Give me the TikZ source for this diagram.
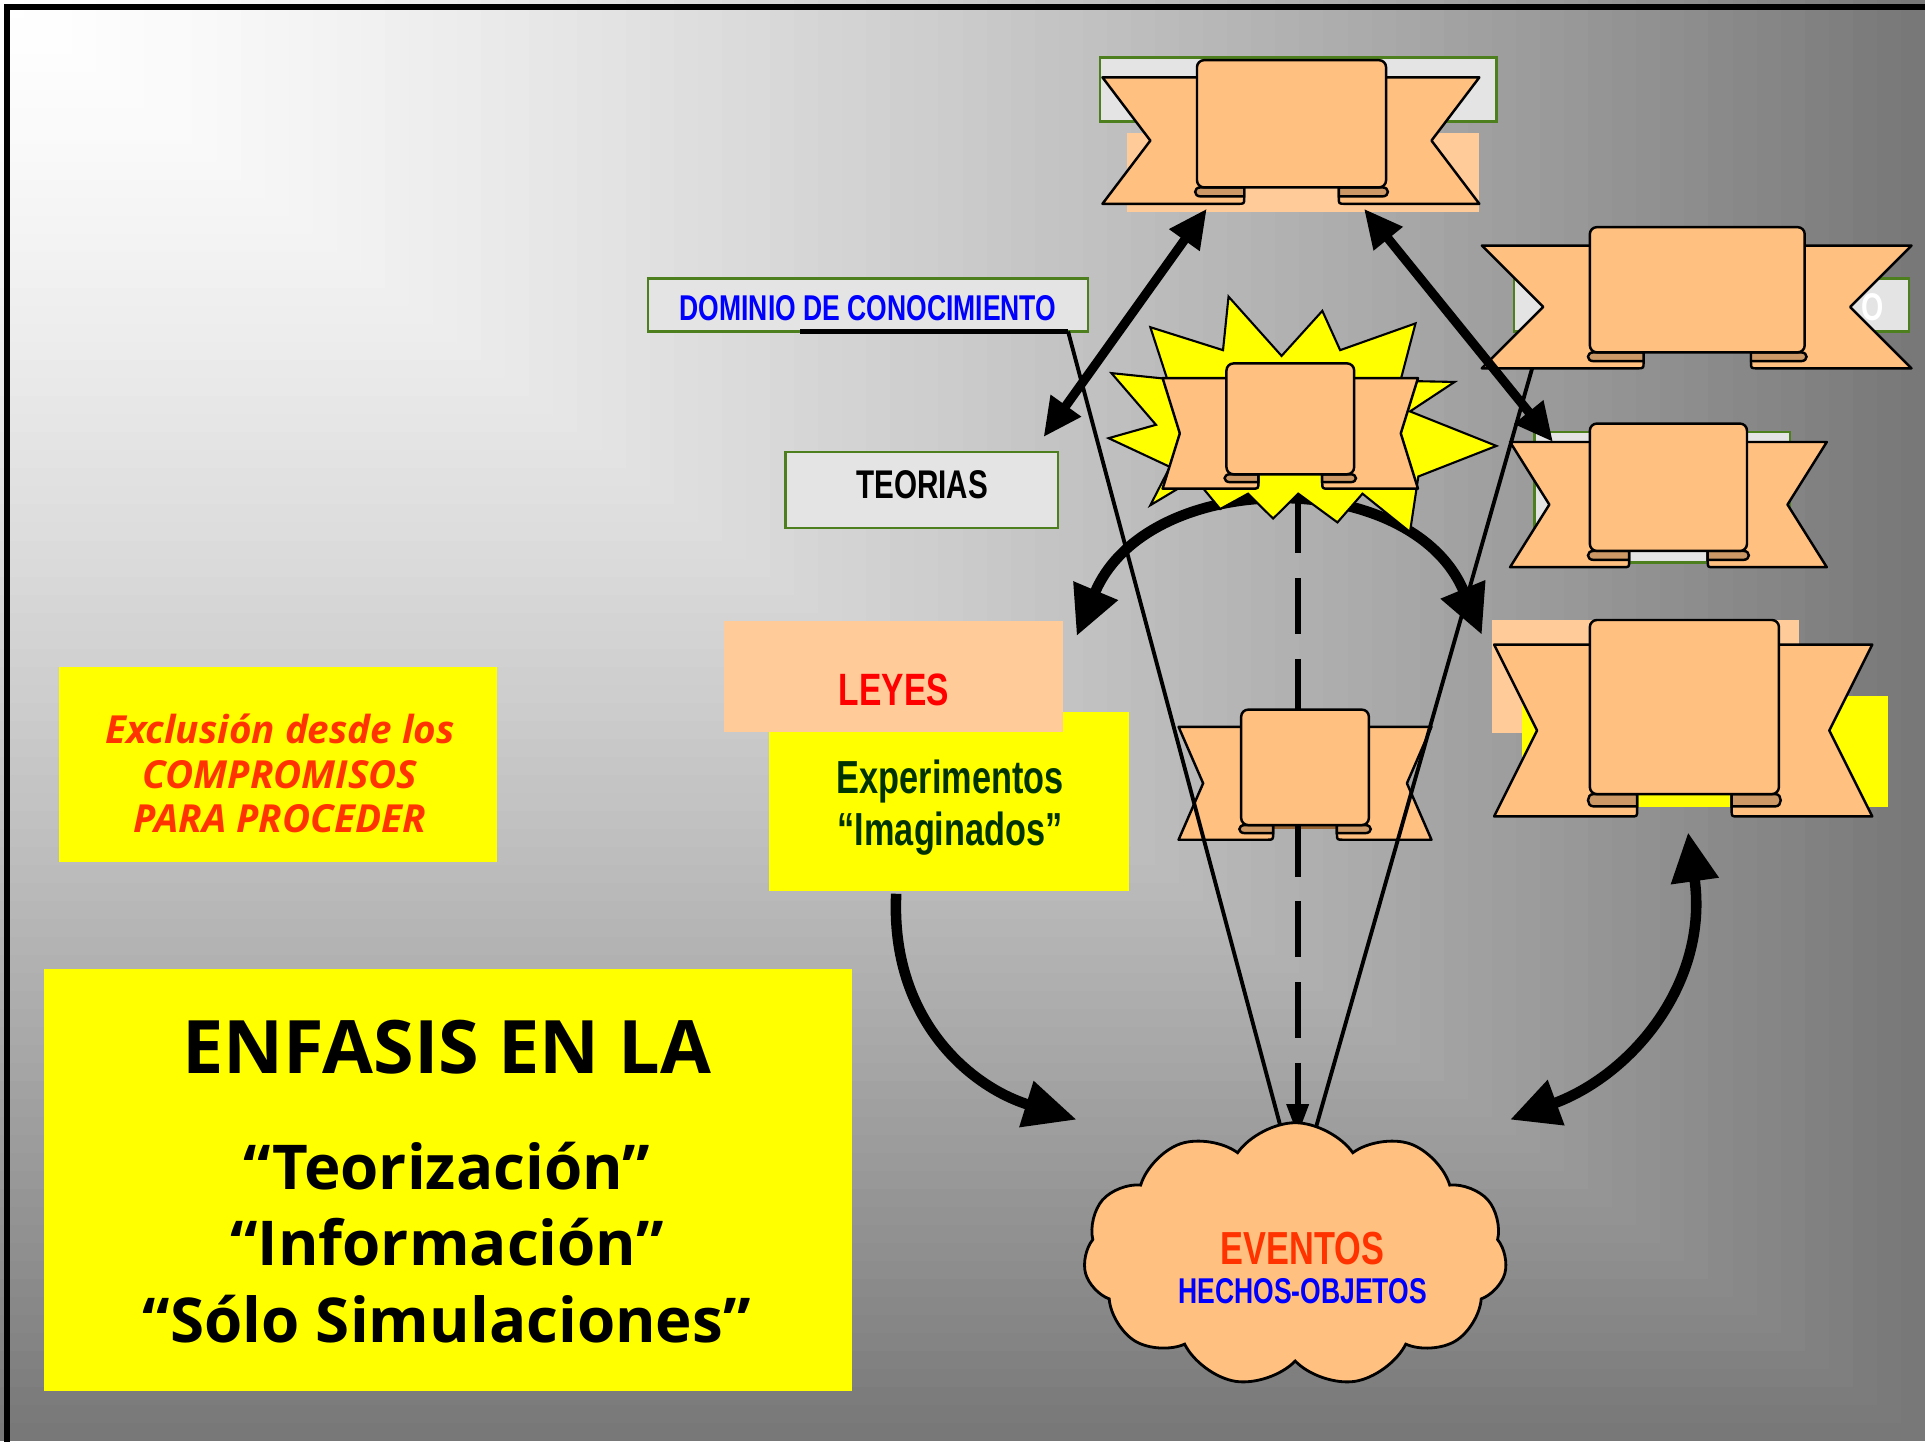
\documentclass[tikz,border=0pt]{standalone}
\usepackage{fontspec}
\usetikzlibrary{arrows.meta,shapes.symbols}
\setmainfont{Liberation Sans}
\newfontfamily\narrowfont[FakeStretch=0.74]{Liberation Sans}
\newfontfamily\comicfont{Open Sans}

\definecolor{peach}{HTML}{FFC080}
\definecolor{peachlight}{HTML}{FFCC99}
\definecolor{curlbrown}{HTML}{CC9966}
\definecolor{boxgreen}{HTML}{4D7F1E}
\definecolor{boxgray}{HTML}{E4E4E4}
\definecolor{leafgreen}{HTML}{003300}
\definecolor{evento}{HTML}{FF3300}
\definecolor{pureyellow}{RGB}{255,255,0}

\newcommand\pxu{0.012277cm}

\tikzset{
  ribbonpart/.style={fill=peach, draw=black, line width=0.7pt, line join=round},
  curlpart/.style={fill=curlbrown, draw=black, line width=0.7pt},
  graybox/.style={draw=boxgreen, fill=boxgray, line width=0.7pt, inner sep=0pt},
  peachbox/.style={fill=peachlight, inner sep=0pt},
  yellowbox/.style={fill=pureyellow, inner sep=0pt},
  starburst/.style={fill=pureyellow, draw=black, line width=0.6pt, line join=miter},
  narrowtext/.style={font=\narrowfont\bfseries\fontsize{#1}{#1}\selectfont},
  thickarrow/.style={line width=2.6pt, {Triangle[length=11pt,width=10pt]}-{Triangle[length=11pt,width=10pt]}},
  curvedarrow/.style={line width=3pt, -{Triangle[length=15pt,width=13pt]}},
  curvedboth/.style={line width=3pt, {Triangle[length=14pt,width=13pt]}-{Triangle[length=14pt,width=13pt]}},
  coneline/.style={line width=1.1pt},
  dashline/.style={line width=1.8pt, dash pattern=on 16pt off 7pt, -{Triangle[length=9pt,width=6pt]}},
}

% ribbon: #1 left end, #2 right end, #3 band top, #4 band bottom,
% #5 panel left, #6 panel right, #7 panel top, #8 notch depth
\newcommand\ribbon[8]{%
  \pgfmathsetmacro\rcw{0.25*(#6-#5)}%
  \pgfmathsetmacro\rch{0.13*(#4-#3)}%
  \pgfmathsetmacro\rpb{#4-\rch}%
  \pgfmathsetmacro\rcy{\rpb+0.55*\rch}%
  \pgfmathsetmacro\rmid{(#3+#4)/2}%
  \filldraw[ribbonpart] (#1,#3) -- (#5+\rcw,#3) -- (#5+\rcw,#4-5)
    .. controls (#5+\rcw,#4) .. (#5+\rcw-5,#4) -- (#1,#4) -- (#1+#8,\rmid) -- cycle;
  \filldraw[ribbonpart] (#2,#3) -- (#6-\rcw,#3) -- (#6-\rcw,#4-5)
    .. controls (#6-\rcw,#4) .. (#6-\rcw+5,#4) -- (#2,#4) -- (#2-#8,\rmid) -- cycle;
  \filldraw[curlpart] (#5+\rcw,\rpb) -- (#5+3,\rpb)
    .. controls (#5-3,\rpb) and (#5-3,\rcy) .. (#5+3,\rcy) -- (#5+\rcw,\rcy) -- cycle;
  \filldraw[curlpart] (#6-\rcw,\rpb) -- (#6-3,\rpb)
    .. controls (#6+3,\rpb) and (#6+3,\rcy) .. (#6-3,\rcy) -- (#6-\rcw,\rcy) -- cycle;
  \filldraw[ribbonpart, rounded corners=2pt] (#5,\rpb) -- (#5,#7) -- (#6,#7) -- (#6,\rpb) -- cycle;
}

\begin{document}
\begin{tikzpicture}[x=\pxu, y=-\pxu]
  \useasboundingbox (0,0) rectangle (1568,1174);

  % background
  \foreach \s in {80,79,...,1}{
    \pgfmathsetmacro\shade{53*(\s/80)^1.4}
    \pgfmathsetmacro\bw{\s/80*1568}
    \pgfmathsetmacro\bh{\s/80*1174}
    \fill[black!\shade] (0,0) rectangle (\bw,\bh);
  }
  \begin{scope}
    \clip (0,0) rectangle (1568,1174);
    \draw[line width=1.7pt] (6,6) rectangle (1620,1220);
  \end{scope}

  % boxes behind the ribbons
  \node[graybox, minimum width=323*\pxu, minimum height=52*\pxu] (hidtop) at (1057.5,73) {};
  \node[peachbox, minimum width=287*\pxu, minimum height=65*\pxu] (peachtop) at (1061.5,140.5) {};
  \node[graybox, minimum width=322*\pxu, minimum height=43*\pxu] (hidright) at (1394,248.5) {};
  \node[text=white, narrowtext=11] (hidO) at (1525,250) {O};
  \node[graybox, minimum width=208*\pxu, minimum height=106*\pxu] (hidmid) at (1354,405) {};
  \node[peachbox, minimum width=250*\pxu, minimum height=92*\pxu] (peachright) at (1340,551) {};
  \node[yellowbox, minimum width=298*\pxu, minimum height=90*\pxu] (yellowright) at (1389,612) {};
  \node[fill=black!20!brown, inner sep=0pt, minimum width=52*\pxu, minimum height=5*\pxu] (brownbar) at (1064,673) {};

  % arc under the star
  \coordinate (arcl) at (877,518);
  \coordinate (arcr) at (1207,517);
  \draw[curvedboth] (arcl) .. controls (935,380) and (1150,380) .. (arcr);

  % dashed arrow down to the cloud
  \coordinate (dashtop) at (1057,405);
  \coordinate (dashend) at (1057,925);
  \draw[dashline] (dashtop) -- (dashend);

  % starburst
  \filldraw[starburst] (1000.7,241.6) -- (1043.9,289.9) -- (1077.1,253.2) -- (1091.6,285.2)
    -- (1153,263.4) -- (1140.7,310.2) -- (1184.8,311.1) -- (1148.5,335.1) -- (1218.9,363.2)
    -- (1155.3,388.1) -- (1148.5,433.3) -- (1109.8,402.1) -- (1089.4,425.5) -- (1057.5,402.1)
    -- (1037,422.4) -- (1016.6,402.1) -- (993.9,414.6) -- (973.4,389.7) -- (937,411.5)
    -- (953,380.3) -- (903,356.9) -- (941.6,346) -- (905.3,303.9) -- (950.7,308.6)
    -- (937,266.5) -- (996.2,285.2) -- cycle;

  % ribbons
  \ribbon{898}{1205}{63}{166}{975}{1129}{49}{39}
  \ribbon{1207}{1557}{200}{300}{1295}{1470}{185}{50}
  \ribbon{1230}{1488}{360}{462}{1295}{1423}{345}{32}
  \ribbon{1217}{1525}{525}{665}{1295}{1449}{505}{35}
  \ribbon{947}{1155}{308}{398}{999}{1103}{296}{14}
  \ribbon{960}{1166}{592}{684}{1011}{1115}{578}{20}

  % labelled boxes
  \node[graybox, minimum width=358*\pxu, minimum height=43*\pxu] (dominiobox) at (707,248.5) {};
  \node[text=blue, narrowtext=10.2] (dominio) at (707,251) {DOMINIO DE CONOCIMIENTO};
  \node[graybox, minimum width=222*\pxu, minimum height=62*\pxu] (teoriasbox) at (751,399) {};
  \node[narrowtext=11.4] (teorias) at (751,395) {TEORIAS};
  \node[yellowbox, minimum width=294*\pxu, minimum height=146*\pxu] (expbox) at (773,653) {};
  \node[peachbox, minimum width=276*\pxu, minimum height=90*\pxu] (leyesbox) at (728,551) {};
  \node[text=red, narrowtext=12.9] (leyes) at (728,562) {LEYES};
  \node[text=leafgreen, narrowtext=13.2, align=center] (experimentos) at (774,658)
    {Experimentos\\[1.5pt]“Imaginados”};

  \node[yellowbox, minimum width=357*\pxu, minimum height=159*\pxu] (exclbox) at (226.5,622.5) {};
  \node[text=evento, font=\comicfont\bfseries\itshape\fontsize{11}{12.6}\selectfont, align=center]
    (exclusion) at (228,630) {Exclusión desde los\\COMPROMISOS\\PARA PROCEDER};

  \node[yellowbox, minimum width=658*\pxu, minimum height=344*\pxu] (enfbox) at (365,961) {};
  \node[font=\comicfont\bfseries\fontsize{21}{24}\selectfont] (enfasis) at (364,853) {ENFASIS EN LA};
  \node[font=\comicfont\bfseries\fontsize{17.6}{21.8}\selectfont, align=center] (enfasis2) at (364,1012)
    {“Teorización”\\“Información”\\“Sólo Simulaciones”};

  % straight arrows
  \coordinate (a1s) at (983,170);
  \coordinate (a1e) at (850,356);
  \coordinate (a2s) at (1111,170);
  \coordinate (a2e) at (1265,360);
  \draw[thickarrow] (a1s) -- (a1e);
  \draw[thickarrow] (a2s) -- (a2e);

  % curved arrows
  \coordinate (expout) at (730,728);
  \coordinate (cloudin) at (877,912);
  \draw[curvedarrow] (expout) .. controls (725,830) and (790,885) .. (cloudin);
  \coordinate (rightup) at (1375,678);
  \coordinate (rightdown) at (1230,912);
  \draw[curvedboth] (rightup) .. controls (1392,800) and (1330,875) .. (rightdown);

  % cone lines
  \coordinate (ulinel) at (652,270);
  \coordinate (ulinec) at (870,270);
  \coordinate (conel) at (1045,925);
  \coordinate (coner) at (1248,300);
  \coordinate (conee) at (1070,925);
  \draw[line width=1.6pt] (ulinel) -- (ulinec);
  \draw[coneline] (ulinec) -- (conel);
  \draw[coneline] (coner) -- (conee);

  % cloud
  \node[cloud, cloud puffs=11, cloud puff arc=110, aspect=1.6, draw, fill=peach, line width=0.8pt,
    minimum width=345*\pxu, minimum height=215*\pxu] (cloud) at (1055,1022) {};
  \node[text=evento, narrowtext=13.2] (eventos) at (1061,1017) {EVENTOS};
  \node[text=blue, narrowtext=10.2] (hechos) at (1061,1052) {HECHOS-OBJETOS};
\end{tikzpicture}
\end{document}
